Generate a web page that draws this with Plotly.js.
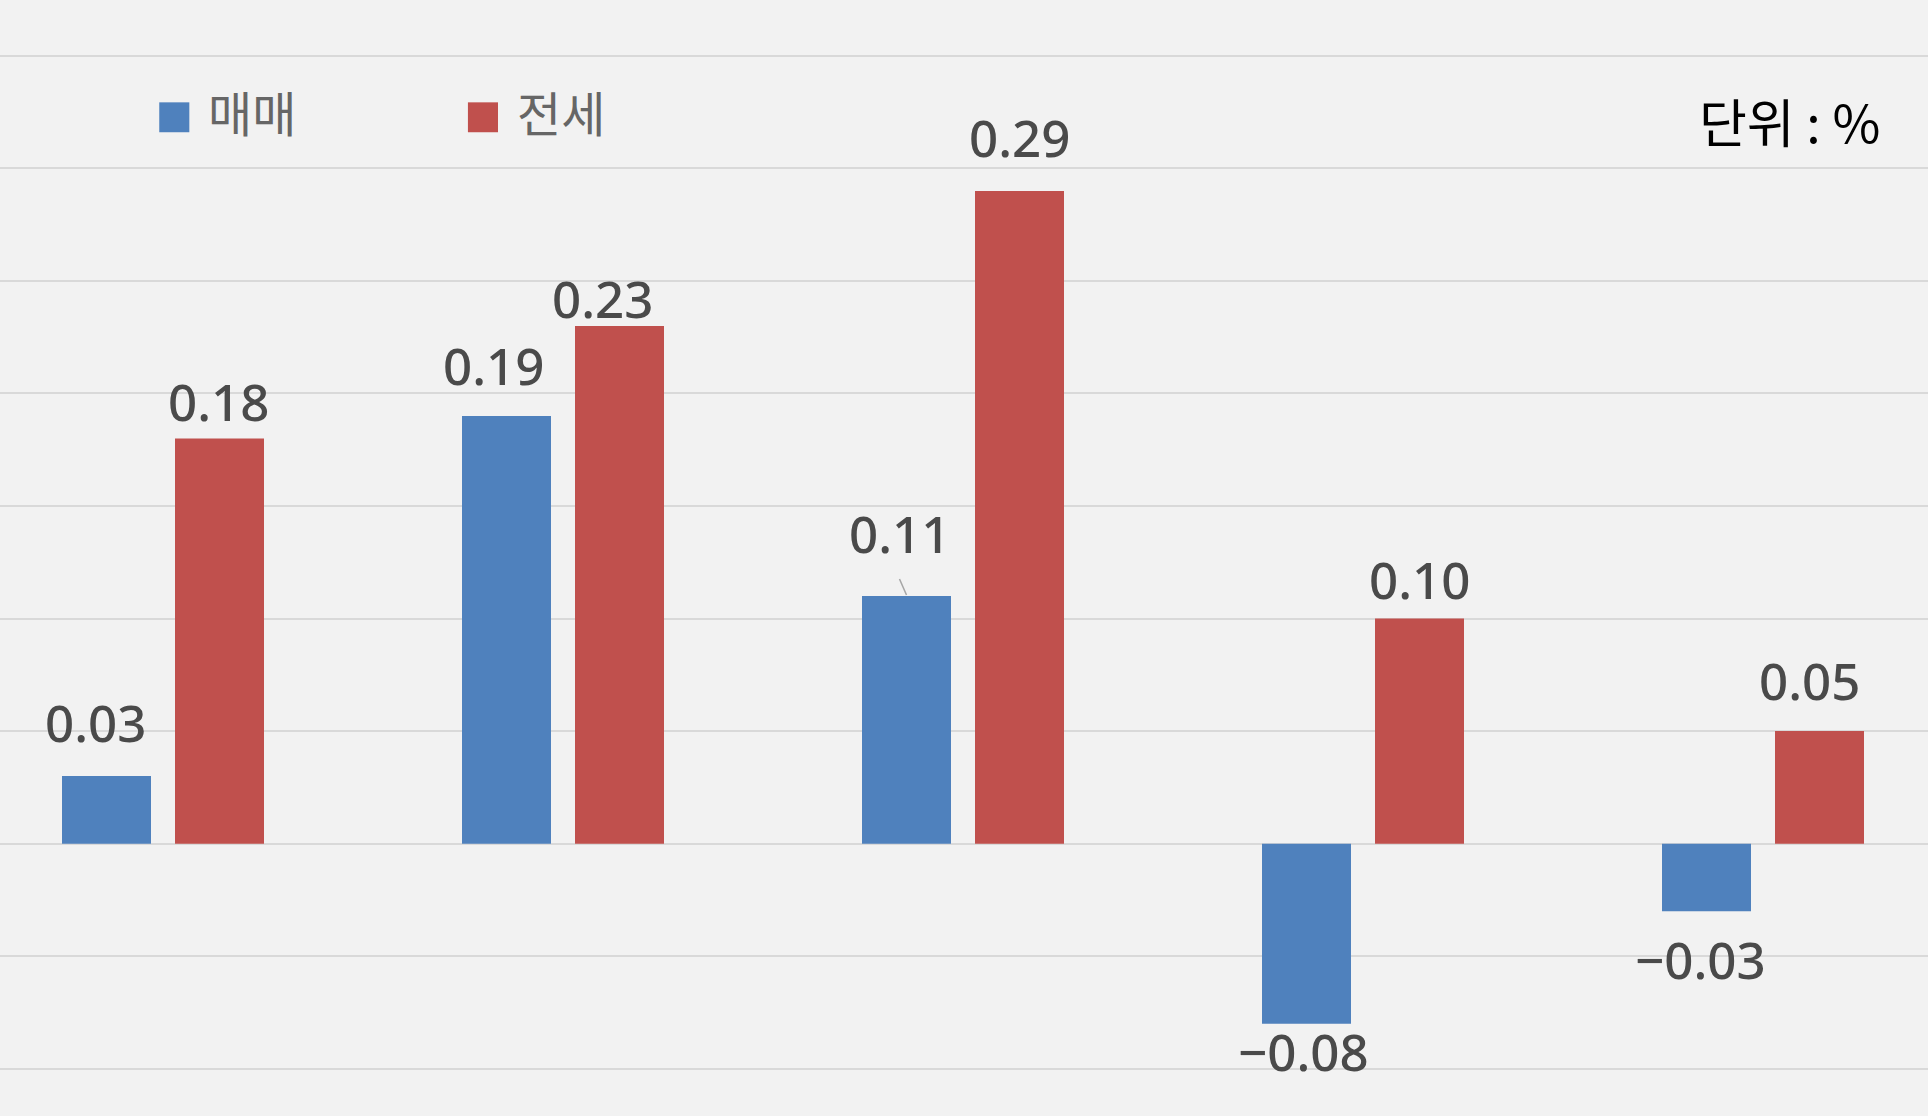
<!DOCTYPE html>
<html>
<head>
<meta charset="utf-8">
<script src="https://cdn.plot.ly/plotly-3.0.1.min.js"></script>
<style>html,body{margin:0;padding:0;background:#f2f2f2;}#chart{width:1928px;height:1116px;}</style>
</head>
<body>
<div id="chart"></div>
<script>
// ---- data ----
const categories = ['1', '2', '3', '4', '5'];
const seriesNames = ['매매', '전세'];
const saleValues = [0.03, 0.19, 0.11, -0.08, -0.03];   // 매매
const jeonseValues = [0.18, 0.23, 0.29, 0.10, 0.05];  // 전세
const unitLabel = '단위 : %';

// ---- styling ----
const colors = ['#4f81bd', '#c0504d'];
const barWidth = 0.2225;
const offsets = [-0.25375, 0.02875];
// label nudges in pixels (dx right, dy down) relative to bar end
const saleLabelDX = [-11, -13, -7, -3, -6];
const saleLabelDY = [-54, -51, -63, 27, 48];
const jeonseLabelDX = [-1, -17.5, 0, 0, -10];
const jeonseLabelDY = [-37, -28, -54, -39.5, -51];

const xIdx = categories.map((c, i) => i);
function fmt(v) { return (v < 0 ? '\u2212' : '') + Math.abs(v).toFixed(2); }

const traces = [saleValues, jeonseValues].map((vals, s) => ({
  type: 'bar',
  name: seriesNames[s],
  x: xIdx,
  y: vals,
  width: barWidth,
  offset: offsets[s],
  marker: { color: colors[s], line: { width: 0 } },
  hovertext: categories,
  showlegend: false
}));

const annotations = [];
[[saleValues, saleLabelDX, saleLabelDY], [jeonseValues, jeonseLabelDX, jeonseLabelDY]].forEach(([vals, dxs, dys], s) => {
  vals.forEach((v, i) => {
    annotations.push({
      x: i + offsets[s] + barWidth / 2, y: v, xref: 'x', yref: 'y',
      text: fmt(v), showarrow: false,
      xanchor: 'center', yanchor: 'middle',
      xshift: dxs[i], yshift: -dys[i],
      font: { family: 'Noto Sans, sans-serif', size: 51, color: '#4a4a4a', weight: 500 }
    });
  });
});
// legend texts
const legendX = [0.0826, 0.2427];
seriesNames.forEach((n, s) => {
  annotations.push({
    x: legendX[s] + 0.0242, y: 0.9001, xref: 'paper', yref: 'paper',
    text: n, showarrow: false, xanchor: 'left', yanchor: 'middle',
    font: { family: 'Noto Sans CJK KR, sans-serif', size: 48, color: '#666666' }
  });
});
annotations.push({
  x: 0.976, y: 0.892, xref: 'paper', yref: 'paper', text: unitLabel,
  showarrow: false, xanchor: 'right', yanchor: 'middle',
  font: { family: 'Noto Sans CJK KR, sans-serif', size: 52, color: '#000000' }
});

const shapes = seriesNames.map((n, s) => ({
  type: 'rect', xref: 'paper', yref: 'paper',
  x0: legendX[s], x1: legendX[s] + 0.0156, y0: 0.8815, y1: 0.9083,
  fillcolor: colors[s], line: { width: 0 }
}));
// leader line for the 0.11 label
shapes.push({
  type: 'line', xref: 'x', yref: 'y',
  xsizemode: 'pixel', ysizemode: 'pixel',
  xanchor: 2 + offsets[0] + barWidth / 2, yanchor: saleValues[2],
  x0: -7, y0: 17, x1: 0, y1: 1,
  line: { color: '#a6a6a6', width: 1.5 }
});

const layout = {
  width: 1928, height: 1116,
  margin: { l: 0, r: 0, t: 0, b: 0, pad: 0 },
  paper_bgcolor: '#f2f2f2', plot_bgcolor: '#f2f2f2',
  showlegend: false,
  xaxis: { range: [-0.40875, 4.41125], showgrid: false, zeroline: false, showticklabels: false,
           tickvals: xIdx, ticktext: categories, ticks: '', showline: false, fixedrange: true },
  yaxis: { range: [-0.1210, 0.3748], dtick: 0.05, tick0: 0, showgrid: true, gridcolor: '#d9d9d9', gridwidth: 2,
           zeroline: false, showticklabels: false, ticks: '', showline: false, fixedrange: true },
  annotations: annotations,
  shapes: shapes
};

Plotly.newPlot('chart', traces, layout, { staticPlot: true, displayModeBar: false });
</script>
</body>
</html>
